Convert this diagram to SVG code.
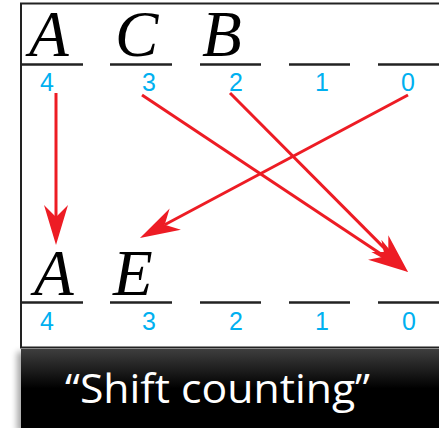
<svg xmlns="http://www.w3.org/2000/svg" width="439" height="428" viewBox="0 0 439 428">
<defs>
<style>
.let{font-family:"Liberation Serif","Times New Roman",serif;font-style:italic;font-size:65px;fill:#000}
.num{font-family:"Liberation Sans",Arial,sans-serif;font-size:25px;fill:#00B0F0;text-anchor:middle}
.ul{stroke:#222;stroke-width:2.6}
.arr{stroke:#ED1C24;stroke-width:3;fill:none;marker-end:url(#ah)}
</style>
<marker id="ah" markerUnits="userSpaceOnUse" viewBox="-42 -14 44 28" refX="-28" refY="0" markerWidth="44" markerHeight="28" orient="auto">
<path d="M0,0 L-40,-12 L-28,0 L-40,12 Z" fill="#ED1C24"/>
</marker>
<linearGradient id="band" x1="0" y1="0" x2="0" y2="1">
<stop offset="0" stop-color="#3e3e3e"/>
<stop offset="0.5" stop-color="#000"/>
<stop offset="1" stop-color="#000"/>
</linearGradient>
<filter id="sh" x="-20%" y="-20%" width="140%" height="140%">
<feGaussianBlur stdDeviation="3"/>
</filter>
</defs>
<rect width="439" height="428" fill="#fff"/>
<rect x="21" y="3.5" width="430" height="344" fill="#fff" stroke="#222" stroke-width="2"/>
<g id="top-row">
<line class="ul" x1="21" y1="64.5" x2="83" y2="64.5"/>
<line class="ul" x1="110" y1="64.5" x2="172" y2="64.5"/>
<line class="ul" x1="200" y1="64.5" x2="261" y2="64.5"/>
<line class="ul" x1="289" y1="64.5" x2="350" y2="64.5"/>
<line class="ul" x1="378" y1="64.5" x2="439" y2="64.5"/>
</g>
<g id="nodeA1"><text class="let" x="29" y="56">A</text><text class="num" x="47" y="91">4</text></g>
<g id="nodeC1"><text class="let" x="115" y="56">C</text><text class="num" x="149" y="91">3</text></g>
<g id="nodeB1"><text class="let" x="202" y="56">B</text><text class="num" x="236" y="91">2</text></g>
<g id="node11"><text class="num" x="322" y="91">1</text></g>
<g id="node01"><text class="num" x="408" y="91">0</text></g>
<g id="bottom-row">
<line class="ul" x1="21" y1="302.5" x2="83" y2="302.5"/>
<line class="ul" x1="110" y1="302.5" x2="172" y2="302.5"/>
<line class="ul" x1="200" y1="302.5" x2="261" y2="302.5"/>
<line class="ul" x1="289" y1="302.5" x2="350" y2="302.5"/>
<line class="ul" x1="378" y1="302.5" x2="439" y2="302.5"/>
</g>
<g id="nodeA2"><text class="let" x="34" y="295">A</text><text class="num" x="47" y="330">4</text></g>
<g id="nodeE2"><text class="let" x="113" y="295">E</text><text class="num" x="149" y="330">3</text></g>
<g id="node22"><text class="num" x="236" y="330">2</text></g>
<g id="node12"><text class="num" x="322" y="330">1</text></g>
<g id="node02"><text class="num" x="409" y="330">0</text></g>
<g id="connectors">
<line class="arr" x1="56" y1="93" x2="56" y2="217"/>
<line class="arr" x1="142" y1="95" x2="384.7" y2="256.5"/>
<line class="arr" x1="230" y1="93" x2="388.3" y2="252.1"/>
<line class="arr" x1="408" y1="95" x2="164.7" y2="224.8"/>
</g>
<g id="caption">
<rect x="17" y="352" width="430" height="80" fill="#000" opacity="0.35" filter="url(#sh)"/>
<rect x="21" y="349" width="418" height="79" fill="url(#band)"/>
<text x="65" y="403" font-family="'Open Sans','Liberation Sans',sans-serif" font-size="40" fill="#fff" textLength="305" lengthAdjust="spacingAndGlyphs">“Shift counting”</text>
</g>
</svg>
